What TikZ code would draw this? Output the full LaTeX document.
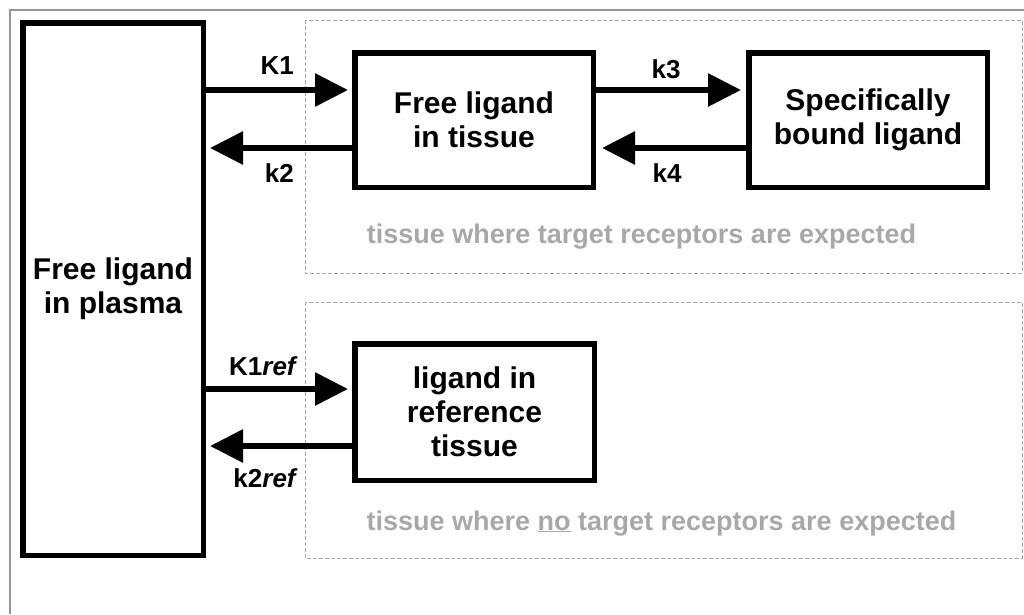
\documentclass[tikz,border=0pt]{standalone}
\usepackage{fontspec}
\setmainfont{Liberation Sans}
\usetikzlibrary{arrows.meta}
\definecolor{framegray}{RGB}{150,150,150}
\definecolor{zonegray}{RGB}{168,168,168}
\newcommand{\compfont}{\fontsize{30}{34}\selectfont\bfseries}
\newcommand{\ratefont}{\fontsize{26}{30}\selectfont\bfseries}
\newcommand{\zonefont}{\fontsize{27}{30}\selectfont\bfseries}
\tikzstyle{comp}=[draw=black,line width=5.5pt,align=center,font=\compfont,inner sep=0pt]
\tikzstyle{flow}=[line width=6pt,-{Triangle[length=33pt,width=32pt]}]
\tikzstyle{rate}=[font=\ratefont,inner sep=0pt]
\tikzstyle{zone}=[draw=zonegray,line width=1pt,dash pattern=on 4pt off 2pt]
\tikzstyle{zonetext}=[font=\zonefont,text=zonegray,inner sep=0pt]

\begin{document}
\begin{tikzpicture}[x=1pt,y=-1pt]
  \useasboundingbox (0,0) rectangle (1024,614);
  \draw[framegray,line width=2pt] (10,614) -- (10,10) -- (1024,10);

  % regions
  \draw[zone] (305,20) rectangle (1022,273);
  \draw[zone] (305,302) rectangle (1022,558);
  \node[zonetext,anchor=base] (targetlbl) at (641.5,243)
    {tissue where target receptors are expected};
  \node[zonetext,anchor=base] (reflbl) at (661.5,530)
    {tissue where \underline{no} target receptors are expected};

  % compartments
  \node[comp,minimum width=180.5pt,minimum height=532.5pt] (plasma) at (113,289)
    {Free ligand\\in plasma};
  \node[comp,minimum width=238.5pt,minimum height=134.5pt] (tissue) at (474,120)
    {Free ligand\\in tissue};
  \node[comp,minimum width=238.5pt,minimum height=134.5pt] (bound) at (868,120)
    {Specifically\\bound ligand};
  \node[comp,minimum width=239.5pt,minimum height=136.5pt] (reftissue) at (474.5,412)
    {ligand in\\reference\\tissue};

  % exchange
  \draw[flow,shorten >=4pt] (plasma.east |- 0,90) -- (tissue.west |- 0,90);
  \draw[flow,shorten >=4pt] (tissue.west |- 0,148) -- (plasma.east |- 0,148);
  \draw[flow,shorten >=5pt] (tissue.east |- 0,90) -- (bound.west |- 0,90);
  \draw[flow,shorten >=6pt] (bound.west |- 0,148) -- (tissue.east |- 0,148);
  \draw[flow,shorten >=4pt] (plasma.east |- 0,389) -- (reftissue.west |- 0,389);
  \draw[flow,shorten >=4pt] (reftissue.west |- 0,446) -- (plasma.east |- 0,446);

  \node[rate,anchor=base east] (k1) at (294,74) {K1};
  \node[rate,anchor=base east] (k2) at (294,182) {k2};
  \node[rate,anchor=base] (k3) at (666,78) {k3};
  \node[rate,anchor=base] (k4) at (667,182) {k4};
  \node[rate,anchor=base east] (k1ref) at (298,375) {K1\textit{ref}};
  \node[rate,anchor=base east] (k2ref) at (298,487) {k2\textit{ref}};
\end{tikzpicture}
\end{document}
